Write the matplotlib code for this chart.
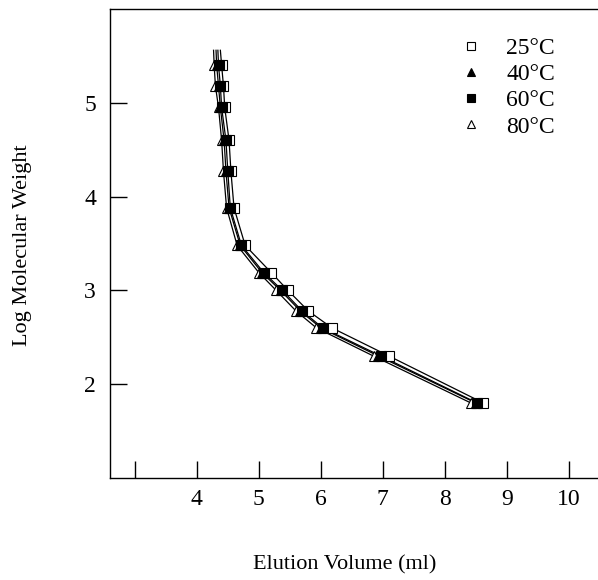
import matplotlib.pyplot as plt
import numpy as np

plt.rcParams['font.family'] = ['Liberation Serif', 'DejaVu Serif']

logmw = [5.4, 5.18, 4.95, 4.6, 4.27, 3.88, 3.48, 3.19, 3.0, 2.78, 2.6, 2.3, 1.8]
vol_25 = [4.40, 4.43, 4.45, 4.52, 4.55, 4.60, 4.78, 5.20, 5.47, 5.80, 6.18, 7.10, 8.62]
vol_40 = [4.32, 4.35, 4.38, 4.44, 4.47, 4.52, 4.70, 5.05, 5.35, 5.67, 6.00, 6.93, 8.50]
vol_60 = [4.35, 4.38, 4.40, 4.47, 4.50, 4.54, 4.72, 5.08, 5.38, 5.70, 6.03, 6.97, 8.52]
vol_80 = [4.28, 4.30, 4.35, 4.40, 4.43, 4.48, 4.65, 5.00, 5.28, 5.60, 5.93, 6.85, 8.42]
# where the fitted curves stop above the top point
top_y = 5.56
top_x = {'25': 4.38, '40': 4.31, '60': 4.34, '80': 4.27}

fig = plt.figure(figsize=(5.98, 5.8), dpi=100)
ax = fig.add_axes([110/598, 1-478/580, 1-110/598, (478-9)/580])

series = [
    ('80', vol_80, '^', 'white', '80°C'),
    ('40', vol_40, '^', 'black', '40°C'),
    ('25', vol_25, 's', 'white', '25°C'),
    ('60', vol_60, 's', 'black', '60°C'),
]
handles = {}
for key, xs, mk, fc, lab in series:
    ax.plot([top_x[key]] + xs, [top_y] + logmw, color='black', lw=0.9, zorder=1)
for key, xs, mk, fc, lab in series:
    h, = ax.plot(xs, logmw, linestyle='none', marker=mk, markersize=7 if mk == 's' else 6.5,
                 markerfacecolor=fc, markeredgecolor='black', markeredgewidth=0.8,
                 label=lab, zorder=2)
    handles[key] = h

ax.set_xlim(2.6, 10.47)
ax.set_ylim(1.0, 6.0)
ax.set_xticks(range(3, 11))
ax.set_xticklabels([''] + [str(i) for i in range(4, 11)])
ax.set_yticks([2, 3, 4, 5])
ax.tick_params(direction='in', length=12, width=1, labelsize=17)
ax.tick_params(axis='x', pad=8)
ax.tick_params(axis='y', pad=10)
ax.spines['right'].set_visible(False)
for s in ['left', 'top', 'bottom']:
    ax.spines[s].set_linewidth(1.0)

fig.text(345/598, 1-565/580, 'Elution Volume (ml)', fontsize=16, ha='center', va='center')
fig.text(22/598, 1-245/580, 'Log Molecular Weight', fontsize=16, ha='center', va='center',
         rotation=90)

order = ['25', '40', '60', '80']
ax.legend([handles[k] for k in order], [k + '°C' for k in order],
          loc='upper right', bbox_to_anchor=(0.955, 0.985), frameon=False, fontsize=17,
          handletextpad=0.9, handlelength=1.2, labelspacing=0.2, markerscale=0.8)

fig.savefig('out.png', dpi=100)
